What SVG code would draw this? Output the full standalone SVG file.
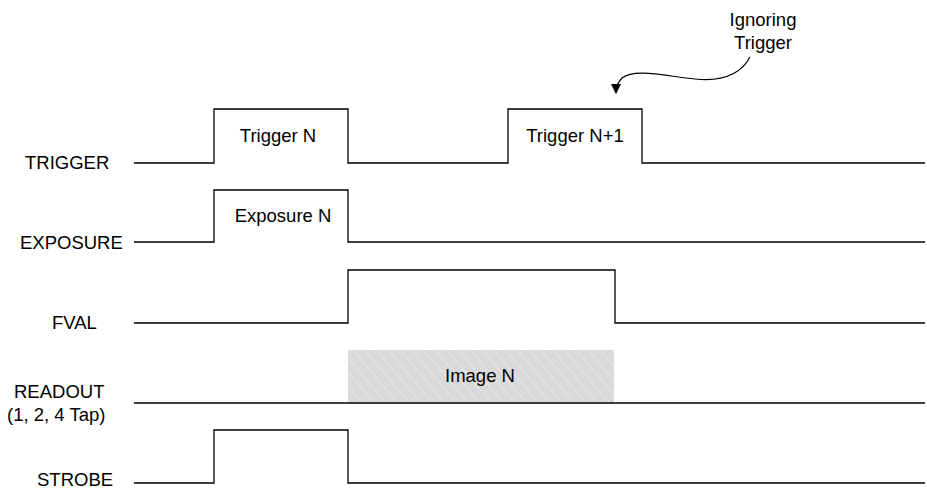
<svg xmlns="http://www.w3.org/2000/svg" width="927" height="489" viewBox="0 0 927 489">
<style>
.sig{fill:none;stroke:#000;stroke-width:1.3}
.t{font-family:"Liberation Sans",Arial,sans-serif;font-size:18.5px;fill:#000}
.c{text-anchor:middle}
</style>
<defs>
<pattern id="hatch" patternUnits="userSpaceOnUse" width="9" height="9" patternTransform="rotate(-40)">
<rect width="9" height="9" fill="#d9d9d9"/>
<line x1="0" y1="0" x2="0" y2="9" stroke="#ffffff" stroke-width="1" stroke-opacity="0.7"/>
</pattern>
<marker id="ah" markerWidth="10" markerHeight="10" refX="9" refY="5" orient="auto" markerUnits="userSpaceOnUse">
<path d="M0,0 L10,5 L0,10 z" fill="#000"/>
</marker>
</defs>
<g id="labels">
<text class="t" x="25" y="169">TRIGGER</text>
<text class="t" x="20" y="249">EXPOSURE</text>
<text class="t" x="52" y="329">FVAL</text>
<text class="t" x="14" y="398">READOUT</text>
<text class="t" x="7" y="421">(1, 2, 4 Tap)</text>
<text class="t" x="37" y="486">STROBE</text>
</g>
<g id="readout">
<rect x="348" y="350" width="266" height="53" fill="url(#hatch)"/>
<line class="sig" x1="134" y1="403" x2="925" y2="403"/>
<text class="t c" x="480" y="382">Image N</text>
</g>
<g id="trigger">
<polyline class="sig" points="134,163 214,163 214,109 348,109 348,163 508,163 508,109 642,109 642,163 925,163"/>
<text class="t c" x="278" y="142">Trigger N</text>
<text class="t c" x="575" y="142">Trigger N+1</text>
</g>
<g id="exposure">
<polyline class="sig" points="134,242 214,242 214,190 348,190 348,242 925,242"/>
<text class="t c" x="283" y="222">Exposure N</text>
</g>
<g id="fval">
<polyline class="sig" points="134,323 348,323 348,270 615,270 615,323 925,323"/>
</g>
<g id="strobe">
<polyline class="sig" points="134,483 214,483 214,430 348,430 348,483 925,483"/>
</g>
<g id="note">
<text class="t c" x="763" y="26">Ignoring</text>
<text class="t c" x="763" y="49">Trigger</text>
</g>
<g id="connectors">
<path d="M750,57 C742,72 725,82 695,79 C665,76 635,68 622,78 C618,82 616,86 616,93" fill="none" stroke="#000" stroke-width="1.2" marker-end="url(#ah)"/>
</g>
</svg>
